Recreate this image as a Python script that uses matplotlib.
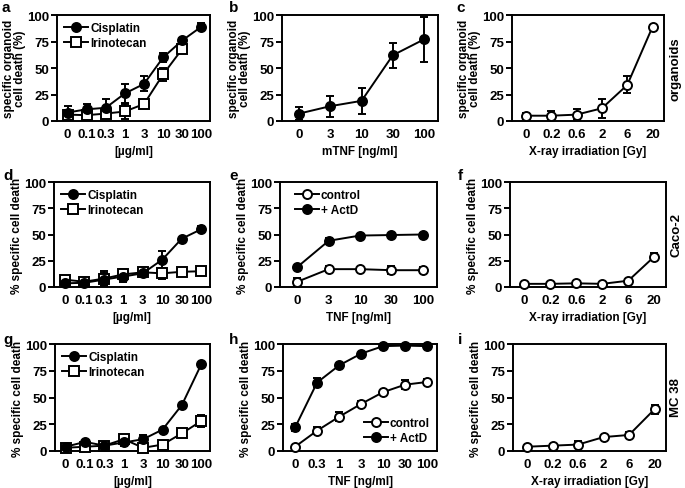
import numpy as np
import matplotlib
matplotlib.use("Agg")
import matplotlib.pyplot as plt
from matplotlib.lines import Line2D

plt.rcParams['font.family'] = ['Liberation Sans', 'DejaVu Sans']
plt.rcParams['font.weight'] = 'bold'
plt.rcParams['axes.labelweight'] = 'bold'

# ---------------- data ----------------
drug_ticks = ["0", "0.1", "0.3", "1", "3", "10", "30", "100"]
mtnf_ticks = ["0", "3", "10", "30", "100"]
xray_ticks = ["0", "0.2", "0.6", "2", "6", "20"]
tnf_e_ticks = ["0", "3", "10", "30", "100"]
tnf_h_ticks = ["0", "0.3", "1", "3", "10", "30", "100"]

# a: organoids, drugs
a_cis = [8, 11, 12.5, 26, 35, 60, 76, 89]
a_cis_err = [6, 5, 8, 9, 7, 4, 2, 3]
a_iri = [6, 5.5, 7, 9, 16, 44, 68, np.nan]
a_iri_err = [4, 3, 4, 7, 3, 6, 3, 0]

# b: organoids, mTNF
b_val = [7, 14, 19, 62, 77]
b_err = [6, 10, 12, 12, 21]

# c: organoids, X-ray
c_val = [5, 5, 6, 12, 34, 89]
c_err = [3, 4, 5, 9, 8, 2]

# d: Caco-2 drugs
d_cis = [3.5, 4, 7, 10, 13, 26, 46, 55]
d_cis_err = [2, 2, 6, 5, 3, 8, 1, 3]
d_iri = [7, 5, 8, 12, 14, 13, 14.5, 15]
d_iri_err = [2, 2, 7, 5, 3, 5, 1, 1.5]

# e: Caco-2 TNF
e_ctrl = [5, 17, 17, 16, 16]
e_ctrl_err = [4, 3, 1, 4, 3]
e_actd = [19, 44, 49, 49.5, 50]
e_actd_err = [1, 3, 1, 1, 1]

# f: Caco-2 X-ray
f_val = [3, 3, 3.5, 3, 6, 29]
f_err = [1, 1, 1, 1, 1, 3]

# g: MC 38 drugs
g_cis = [4, 8.5, 5, 8, 11, 20, 43, 81]
g_cis_err = [1, 1, 1, 3, 4, 1, 1, 1]
g_iri = [3, 4, 5, 11, 3, 6, 16.5, 28]
g_iri_err = [1, 1, 1, 3, 3, 2, 1, 6]

# h: MC 38 TNF
h_ctrl = [4, 19, 32, 44, 55, 62, 64.5]
h_ctrl_err = [1, 3, 4, 3, 1, 4, 3]
h_actd = [22, 64, 80, 91, 98, 98.5, 98]
h_actd_err = [3, 4, 1, 1, 1, 1, 1]

# i: MC 38 X-ray
i_val = [4, 5, 6, 13, 15, 39]
i_err = [1, 2, 3, 1, 3, 4]

# ---------------- layout ----------------
W, H = 685, 489
fig = plt.figure(figsize=(W / 100, H / 100), dpi=100)

def ax_px(l, t, r, b):
    return fig.add_axes([l / W, 1 - b / H, (r - l) / W, (b - t) / H])

TFS = 9.5   # tick labels
LFS = 8.5   # axis labels
GFS = 8.5   # legend
LW = 1.4

def style(ax, ticks, xlabel, ylabel):
    n = len(ticks)
    ax.set_xlim(-0.55, n - 0.55)
    ax.set_ylim(0, 100)
    ax.set_yticks([0, 25, 50, 75, 100])
    ax.set_xticks(range(n))
    ax.set_xticklabels(ticks)
    for s in ax.spines.values():
        s.set_linewidth(LW)
    ax.tick_params(axis='both', direction='out', length=4, width=LW,
                   labelsize=TFS, pad=1.5)
    ax.tick_params(axis='x', length=0, pad=5)
    ax.set_xlabel(xlabel, fontsize=LFS, fontweight='bold', labelpad=4)
    ax.set_ylabel(ylabel, fontsize=LFS, fontweight='bold', labelpad=1,
                  linespacing=0.9)
    for lab in ax.get_xticklabels() + ax.get_yticklabels():
        lab.set_fontweight('bold')

def series(ax, vals, errs, filled, shape='o'):
    x = np.arange(len(vals))
    mfc = 'black' if filled else 'white'
    ax.errorbar(x, vals, yerr=errs, color='black', lw=LW, marker=shape,
                ms=6.5, mfc=mfc, mec='black', mew=1.4,
                capsize=3, capthick=LW, elinewidth=LW,
                clip_on=False, zorder=3)

def legend(ax, loc, labels_styles, bbox=None):
    handles = []
    for lab, filled, shape in labels_styles:
        handles.append(Line2D([0], [0], color='black', lw=LW, marker=shape,
                              ms=6.5, mfc='black' if filled else 'white',
                              mec='black', mew=1.4, label=lab))
    kw = dict(loc=loc, frameon=False, fontsize=GFS, handlelength=2.0,
              handletextpad=0.2, borderaxespad=0.2, labelspacing=0.25)
    if bbox is not None:
        kw['bbox_to_anchor'] = bbox
    leg = ax.legend(handles=handles, **kw)
    for t in leg.get_texts():
        t.set_fontweight('bold')

org_ylab = "specific organoid\ncell death (%)"
cell_ylab = "% specific cell death"
ug = "[\u00b5g/ml]"

# row 1
ax = ax_px(57, 16, 210, 122)
series(ax, a_iri, a_iri_err, False, 's')
series(ax, a_cis, a_cis_err, True, 'o')
style(ax, drug_ticks, ug, org_ylab)
legend(ax, 'upper left', [("Cisplatin", True, 'o'), ("Irinotecan", False, 's')])

ax = ax_px(282, 16, 438, 122)
series(ax, b_val, b_err, True, 'o')
style(ax, mtnf_ticks, "mTNF [ng/ml]", org_ylab)

ax = ax_px(512, 16, 664, 122)
series(ax, c_val, c_err, False, 'o')
style(ax, xray_ticks, "X-ray irradiation [Gy]", org_ylab)

# row 2
ax = ax_px(54, 183, 210, 288)
series(ax, d_iri, d_iri_err, False, 's')
series(ax, d_cis, d_cis_err, True, 'o')
style(ax, drug_ticks, ug, cell_ylab)
legend(ax, 'upper left', [("Cisplatin", True, 'o'), ("Irinotecan", False, 's')])

ax = ax_px(280, 183, 437, 288)
series(ax, e_ctrl, e_ctrl_err, False, 'o')
series(ax, e_actd, e_actd_err, True, 'o')
style(ax, tnf_e_ticks, "TNF [ng/ml]", cell_ylab)
legend(ax, 'upper left', [("control", False, 'o'), ("+ ActD", True, 'o')],
       bbox=(0.05, 1.0))

ax = ax_px(510, 183, 666, 288)
series(ax, f_val, f_err, False, 'o')
style(ax, xray_ticks, "X-ray irradiation [Gy]", cell_ylab)

# row 3
ax = ax_px(55, 345, 210, 452)
series(ax, g_iri, g_iri_err, False, 's')
series(ax, g_cis, g_cis_err, True, 'o')
style(ax, drug_ticks, ug, cell_ylab)
legend(ax, 'upper left', [("Cisplatin", True, 'o'), ("Irinotecan", False, 's')])

ax = ax_px(283, 345, 437, 452)
series(ax, h_ctrl, h_ctrl_err, False, 'o')
series(ax, h_actd, h_actd_err, True, 'o')
style(ax, tnf_h_ticks, "TNF [ng/ml]", cell_ylab)
legend(ax, 'lower right', [("control", False, 'o'), ("+ ActD", True, 'o')])

ax = ax_px(513, 345, 666, 452)
series(ax, i_val, i_err, False, 'o')
style(ax, xray_ticks, "X-ray irradiation [Gy]", cell_ylab)

# panel letters
letters = [("a", 2, 8), ("b", 229, 8), ("c", 456, 8),
           ("d", 3, 176), ("e", 229, 176), ("f", 458, 176),
           ("g", 3, 340), ("h", 229, 340), ("i", 458, 340)]
for s, x, y in letters:
    fig.text(x / W, 1 - y / H, s, fontsize=11, fontweight='bold',
             va='center', ha='left')

# row labels
for s, y in [("organoids", 69), ("Caco-2", 235), ("MC 38", 398)]:
    fig.text(676 / W, 1 - y / H, s, rotation=90, fontsize=9.5,
             fontweight='bold', va='center', ha='center')

fig.savefig("out.png", dpi=100)
